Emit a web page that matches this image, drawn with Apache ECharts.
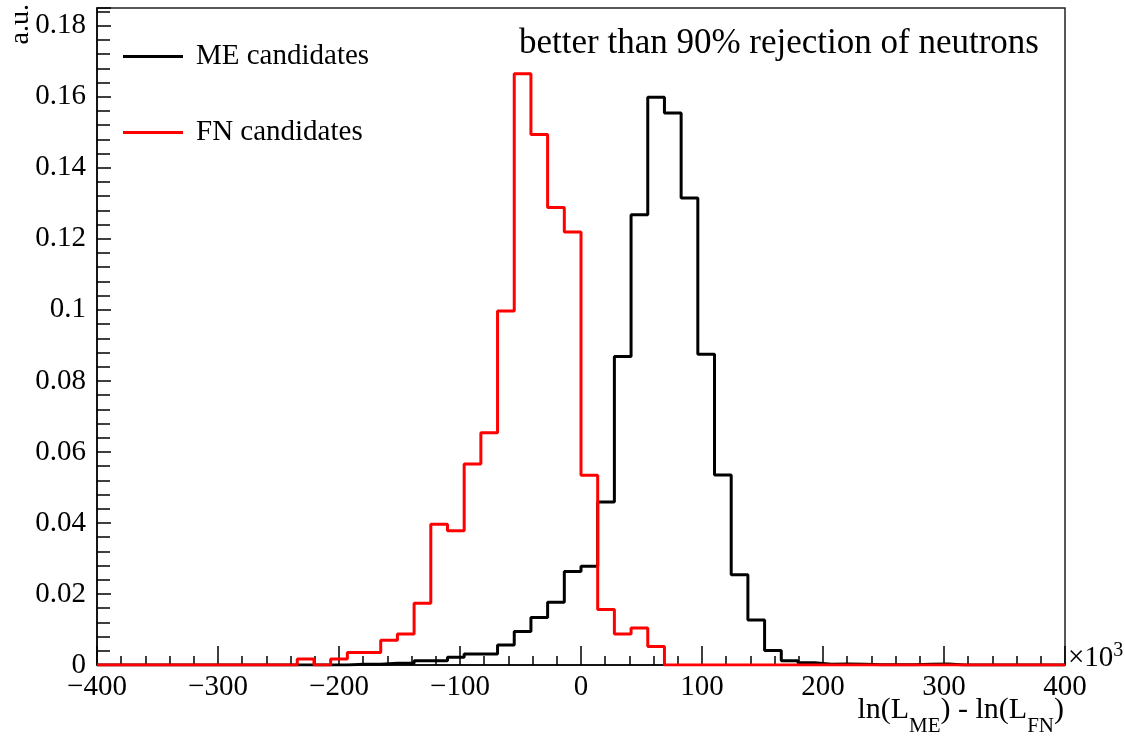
<!DOCTYPE html>
<html>
<head>
<meta charset="utf-8">
<script src="https://cdn.jsdelivr.net/npm/echarts@6/dist/echarts.min.js"></script>
<style>
html,body{margin:0;padding:0;background:#fff;}
#chart{width:1125px;height:736px;}
</style>
</head>
<body>
<div id="chart"></div>
<script>
// Histogram range and binning
const X_MIN = -400, X_MAX = 400, N_BINS = 58;
const Y_MIN = 0, Y_MAX = 0.185;

// ME candidates (black), 58 bins
const meValues = [
  0,0,0,0,0,0,0,0,0,0,
  0,0,0,0,0,0.0002,0.0002,0.0005,0.0005,0.0012,
  0.0012,0.0022,0.0031,0.0031,0.0056,0.0094,0.0134,0.0177,0.0263,0.0278,
  0.0459,0.0869,0.1268,0.1599,0.1554,0.1315,0.0875,0.0535,0.0254,0.0127,
  0.0041,0.0012,0.0006,0.0002,0.0003,0.0002,0.0001,0.0001,0.0001,0.0002,
  0.0003,0,0,0,0,0,0,0
];

// FN candidates (red), 58 bins
const fnValues = [
  0,0,0,0,0,0,0,0,0,0,
  0,0,0.0017,0,0.0017,0.0035,0.0035,0.0070,0.0087,0.0174,
  0.0396,0.0378,0.0566,0.0654,0.0997,0.1665,0.1494,0.1288,0.1219,0.0534,
  0.0156,0.0087,0.0104,0.0052,0,0,0,0,0,0,
  0,0,0,0,0,0,0,0,0,0,
  0,0,0,0,0,0,0,0
];

const seriesNames = ['ME candidates', 'FN candidates'];
const annotation = 'better than 90% rejection of neutrons';
const yTitle = 'a.u.';

function stepPoints(vals) {
  const w = (X_MAX - X_MIN) / vals.length;
  const pts = [];
  vals.forEach((v, i) => {
    pts.push([X_MIN + i * w, v]);
    pts.push([X_MIN + (i + 1) * w, v]);
  });
  return pts;
}

const FONT = '"Liberation Serif", "DejaVu Serif", serif';
const chart = echarts.init(document.getElementById('chart'), null, {renderer: 'canvas'});

chart.setOption({
  animation: false,
  backgroundColor: '#fff',
  grid: {
    left: 97, right: 60, top: 8, bottom: 71,
    show: true, borderColor: '#222', borderWidth: 1.5, backgroundColor: 'transparent'
  },
  title: {
    text: annotation,
    left: 519, top: 26, padding: 0,
    textStyle: {fontFamily: FONT, fontSize: 35, fontWeight: 'normal', color: '#000'}
  },
  legend: {
    orient: 'vertical',
    left: 123, top: 42, padding: 0,
    itemWidth: 60, itemHeight: 3, itemGap: 47,
    icon: 'rect',
    data: seriesNames,
    textStyle: {fontFamily: FONT, fontSize: 29, color: '#000', padding: [0, 0, 0, 8]}
  },
  xAxis: {
    type: 'value', min: X_MIN, max: X_MAX, interval: 100,
    axisLine: {show: true, onZero: false, lineStyle: {color: '#000', width: 1.5}},
    axisTick: {show: true, inside: true, length: 19, lineStyle: {color: '#000', width: 1.5}},
    minorTick: {show: true, splitNumber: 5, length: 9, lineStyle: {color: '#000', width: 1.5}},
    splitLine: {show: false},
    axisLabel: {
      fontFamily: FONT, fontSize: 29, color: '#000', margin: 8,
      formatter: v => (v < 0 ? '\u2212' + Math.abs(v) : String(v))
    }
  },
  yAxis: {
    type: 'value', min: Y_MIN, max: Y_MAX, interval: 0.02,
    axisLine: {show: true, onZero: false, lineStyle: {color: '#000', width: 1.5}},
    axisTick: {show: true, inside: true, length: 14, lineStyle: {color: '#000', width: 1.5}},
    minorTick: {show: true, splitNumber: 5, length: 13, lineStyle: {color: '#000', width: 1.5}},
    splitLine: {show: false},
    axisLabel: {
      fontFamily: FONT, fontSize: 29, color: '#000', margin: 11,
      showMaxLabel: false,
      formatter: v => String(parseFloat(v.toFixed(3)))
    }
  },
  series: [
    {
      name: seriesNames[0], type: 'line', data: stepPoints(meValues),
      symbol: 'none', showSymbol: false, color: '#000',
      lineStyle: {color: '#000', width: 3}, z: 2
    },
    {
      name: seriesNames[1], type: 'line', data: stepPoints(fnValues),
      symbol: 'none', showSymbol: false, color: '#ff0000',
      lineStyle: {color: '#ff0000', width: 3}, z: 3
    }
  ],
  graphic: [
    {
      type: 'text', x: 7, y: 4, rotation: Math.PI / 2, origin: [0, 0],
      style: {
        text: yTitle, font: '28px ' + FONT, fill: '#000',
        align: 'right', verticalAlign: 'top'
      }
    },
    {
      type: 'text', x: 1068, y: 641,
      style: {
        text: '{n|\u00d710}{s|3}',
        rich: {
          n: {font: '29px ' + FONT, fill: '#000', verticalAlign: 'bottom'},
          s: {font: '20px ' + FONT, fill: '#000', verticalAlign: 'top', padding: [0, 0, 12, 0]}
        }
      }
    },
    {
      type: 'text', x: 1064, y: 693,
      style: {
        text: '{n|ln(L}{s|ME}{n|) - ln(L}{s|FN}{n|)}',
        align: 'right',
        rich: {
          n: {font: '30px ' + FONT, fill: '#000', height: 34, lineHeight: 34, verticalAlign: 'top'},
          s: {font: '21px ' + FONT, fill: '#000', height: 34, lineHeight: 50, verticalAlign: 'bottom'}
        }
      }
    }
  ]
});
</script>
</body>
</html>
